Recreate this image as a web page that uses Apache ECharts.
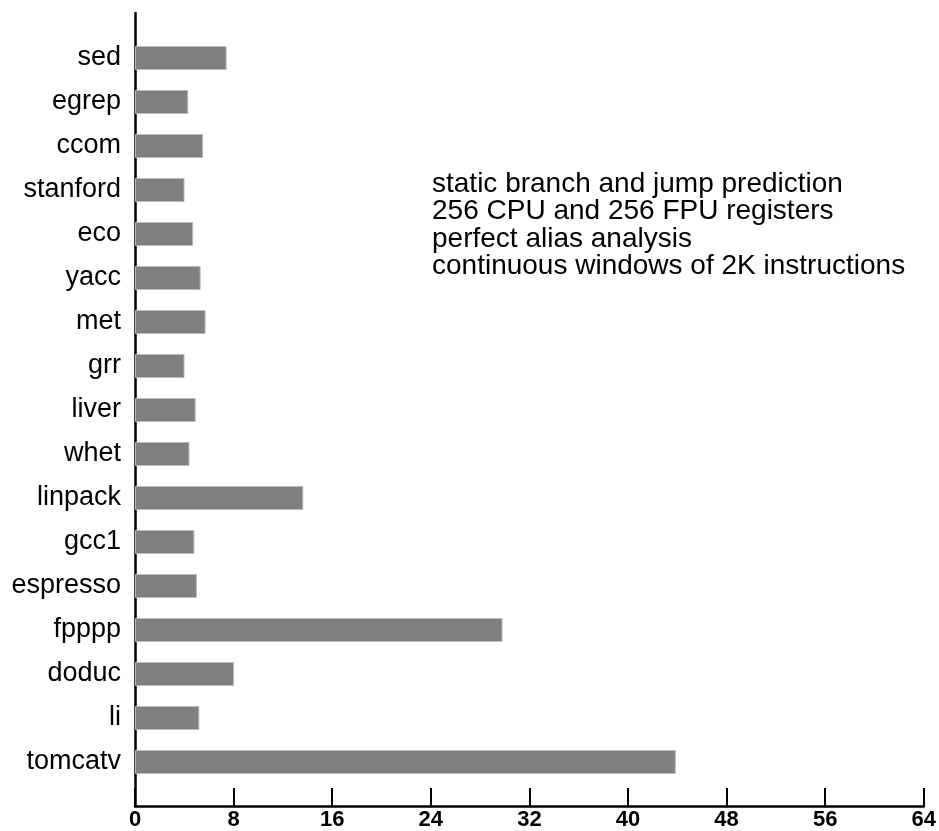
<!DOCTYPE html>
<html><head><meta charset="utf-8">
<script src="https://cdn.jsdelivr.net/npm/echarts@6/dist/echarts.min.js"></script>
<style>html,body{margin:0;padding:0;background:#fff}#c{width:939px;height:831px}</style>
</head><body><div id="c"></div>
<script>
const categories = ['sed','egrep','ccom','stanford','eco','yacc','met','grr','liver','whet','linpack','gcc1','espresso','fpppp','doduc','li','tomcatv'];
const values = [7.4, 4.3, 5.5, 4.0, 4.7, 5.3, 5.7, 4.0, 4.9, 4.4, 13.6, 4.8, 5.0, 29.7, 8.0, 5.2, 43.7];
const xTicks = [0, 8, 16, 24, 32, 40, 48, 56, 64];
const noteLines = ['static branch and jump prediction','256 CPU and 256 FPU registers','perfect alias analysis','continuous windows of 2K instructions'];

const chart = echarts.init(document.getElementById('c'), null, {renderer:'canvas'});
chart.setOption({
  animation:false,
  backgroundColor:'#fff',
  textStyle:{fontFamily:'Liberation Sans, Arial, sans-serif'},
  grid:[
    {left:135, right:12, top:36, height:748},
    {left:135, right:12, top:13, bottom:25}
  ],
  xAxis:[
    {gridIndex:0, type:'value', min:xTicks[0], max:xTicks[xTicks.length-1], interval:8, show:false},
    {gridIndex:1, type:'value', min:xTicks[0], max:xTicks[xTicks.length-1], interval:8,
     axisLine:{show:true, lineStyle:{color:'#000', width:2.5}},
     axisTick:{show:true, inside:true, length:18, lineStyle:{color:'#000', width:2}},
     axisLabel:{color:'#000', fontSize:22, fontWeight:'bold', margin:3, fontFamily:'Liberation Sans Narrow, Liberation Sans, Arial'},
     splitLine:{show:false}}
  ],
  yAxis:[
    {gridIndex:0, type:'category', data:categories, inverse:true,
     axisLine:{show:false}, axisTick:{show:false},
     axisLabel:{color:'#000', fontSize:27, margin:14}},
    {gridIndex:1, type:'value', min:0, max:1,
     axisLine:{show:true, lineStyle:{color:'#000', width:2.5}},
     axisTick:{show:false}, axisLabel:{show:false}, splitLine:{show:false}}
  ],
  series:[{
    type:'bar', xAxisIndex:0, yAxisIndex:0, data:values, barWidth:24,
    itemStyle:{color:'#808080', borderColor:'#b8b8b8', borderWidth:1}
  }],
  graphic:[{
    type:'text', left:432, top:170,
    style:{text:noteLines.join('\n'), fill:'#000', fontSize:28, lineHeight:27.5, fontFamily:'Liberation Sans, Arial, sans-serif'}
  }]
});
</script></body></html>
